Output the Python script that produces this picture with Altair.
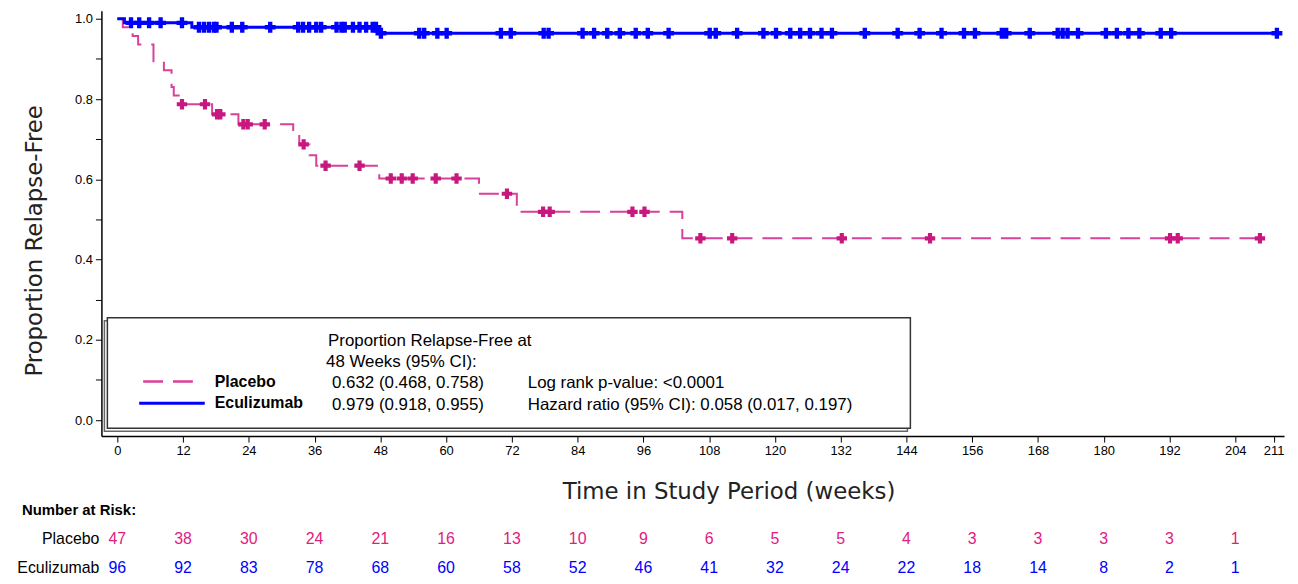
import altair as alt
import numpy as np
import pandas as pd

# ---------------- data ----------------
placebo_step_times = [0, 1.0, 2.8, 3.8, 6.6, 8.5, 9.9, 10.3, 11.2, 17.3, 22.1, 32.1, 33.2,
                      35.1, 36.3, 47.8, 66.0, 72.9, 103.1, 208.5]
placebo_step_surv = [1.0, 0.979, 0.957, 0.936, 0.894, 0.872, 0.830, 0.809, 0.787, 0.762,
                     0.737, 0.712, 0.687, 0.660, 0.634, 0.602, 0.564, 0.519, 0.453, 0.453]
placebo_censor_times = [11.8, 16.0, 18.2, 18.8, 23.0, 23.8, 26.9, 34.0, 38.0, 44.2, 49.9,
                        51.9, 53.9, 58.1, 61.9, 71.1, 77.7, 78.9, 94.0, 96.2, 106.4, 112.2,
                        132.2, 148.3, 192.1, 193.5, 208.5]

ecu_step_times = [0, 1.3, 13.6, 47.8, 211.6]
ecu_step_surv = [1.0, 0.990, 0.979, 0.964, 0.964]
ecu_censor_times = [2.5, 4.0, 5.8, 7.9, 11.8, 14.9, 15.8, 16.7, 17.6, 18.1, 20.9, 22.8, 27.9,
                    33.0, 33.9, 35.0, 36.3, 37.2, 40.0, 40.9, 41.5, 43.0, 44.2, 45.4, 46.6,
                    47.2, 48.1, 55.1, 56.0, 58.4, 60.1, 70.0, 71.8, 77.8, 78.7, 84.9, 87.0,
                    89.4, 91.7, 94.6, 96.8, 100.6, 108.1, 109.2, 113.1, 117.9, 120.2, 122.8,
                    124.6, 126.4, 128.5, 130.4, 136.4, 142.4, 146.4, 150.4, 154.5, 156.5,
                    161.4, 162.2, 166.5, 171.6, 172.5, 173.4, 175.3, 180.4, 182.4, 184.5,
                    186.5, 190.4, 192.3, 211.6]

risk_times = [0, 12, 24, 36, 48, 60, 72, 84, 96, 108, 120, 132, 144, 156, 168, 180, 192, 204]
risk_placebo = [47, 38, 30, 24, 21, 16, 13, 10, 9, 6, 5, 5, 4, 3, 3, 3, 3, 1]
risk_ecu = [96, 92, 83, 78, 68, 60, 58, 52, 46, 41, 32, 24, 22, 18, 14, 8, 2, 1]

x_ticks = [0, 12, 24, 36, 48, 60, 72, 84, 96, 108, 120, 132, 144, 156, 168, 180, 192, 204, 211]
y_ticks = [0.0, 0.1, 0.2, 0.3, 0.4, 0.5, 0.6, 0.7, 0.8, 0.9, 1.0]

# ---------------- tables ----------------
def surv_at(t, st, sv):
    idx = np.searchsorted(np.array(st), np.array(t), side="right") - 1
    return list(np.array(sv)[idx])

df_pl = pd.DataFrame({"time": placebo_step_times, "surv": placebo_step_surv})
df_ec = pd.DataFrame({"time": ecu_step_times, "surv": ecu_step_surv})
df_pl_c = pd.DataFrame({"time": placebo_censor_times,
                        "surv": surv_at(placebo_censor_times, placebo_step_times, placebo_step_surv)})
df_ec_c = pd.DataFrame({"time": ecu_censor_times,
                        "surv": surv_at(ecu_censor_times, ecu_step_times, ecu_step_surv)})
df_risk_pl = pd.DataFrame({"time": risk_times, "n": risk_placebo})
df_risk_ec = pd.DataFrame({"time": risk_times, "n": risk_ecu})

# ---------------- style / layout ----------------
PINK = "#d9409c"
PINK_DARK = "#c8187f"
BLUE = "#0000ff"
FONT = "Liberation Sans, Arial, sans-serif"
TFONT = "DejaVu Sans, sans-serif"

PLOT_LEFT, PLOT_TOP, W, H = 102, 9, 1190, 428


def px(x):
    return x - PLOT_LEFT


def py(y):
    return y - PLOT_TOP


one = alt.Data(values=[{"a": 1}])

xscale = alt.Scale(domain=[-2.9, 212.9], nice=False, zero=False)
yscale = alt.Scale(domain=[-0.04, 1.02], nice=False, zero=False)

xaxis = alt.Axis(values=x_ticks, format="d", title="Time in Study Period (weeks)",
                 titleFont=TFONT, titleFontSize=23, titleFontWeight="normal", titleColor="#222",
                 titleX=631, titleY=56, titleAlign="center", titleBaseline="middle",
                 labelFont=FONT, labelFontSize=13, labelColor="black", labelPadding=3,
                 labelOverlap=False, labelFlush=False,
                 tickSize=6, tickColor="black", domainColor="black", domainWidth=1.5, grid=False)
yaxis = alt.Axis(values=y_ticks,
                 labelExpr="round(datum.value*10) % 2 == 0 ? format(datum.value, '.1f') : ''",
                 title="Proportion Relapse-Free", titleFont=TFONT, titleFontSize=23,
                 titleFontWeight="normal", titleColor="#222", titleAngle=270,
                 titleX=-67, titleY=231, titleAlign="center", titleBaseline="middle",
                 labelFont=FONT, labelFontSize=13, labelColor="black", labelPadding=3,
                 tickSize=6, tickColor="black", domainColor="black", domainWidth=1.5, grid=False)

X = lambda: alt.X("time:Q", scale=xscale, axis=xaxis)
Y = lambda: alt.Y("surv:Q", scale=yscale, axis=yaxis)

line_pl = alt.Chart(df_pl).mark_line(interpolate="step-after", color=PINK, strokeWidth=2,
                                     strokeDash=[20, 10]).encode(x=X(), y=Y())
line_ec = alt.Chart(df_ec).mark_line(interpolate="step-after", color=BLUE,
                                     strokeWidth=3).encode(x=X(), y=Y())
pts_pl = alt.Chart(df_pl_c).mark_point(shape="cross", filled=True, color=PINK_DARK, size=110,
                                       opacity=1).encode(x=X(), y=Y())
pts_ec = alt.Chart(df_ec_c).mark_point(shape="cross", filled=True, color=BLUE, size=120,
                                       opacity=1).encode(x=X(), y=Y())

risk_pl = alt.Chart(df_risk_pl).mark_text(font=FONT, fontSize=16, color="#e0207f",
                                          baseline="middle").encode(
    x=X(), y=alt.value(py(541)), text="n:Q")
risk_ec = alt.Chart(df_risk_ec).mark_text(font=FONT, fontSize=16, color=BLUE,
                                          baseline="middle").encode(
    x=X(), y=alt.value(py(570)), text="n:Q")


def label(text, x, y, size=17, weight="normal", align="left", color="black", font=FONT):
    return alt.Chart(one).mark_text(text=text, align=align, baseline="middle", fontSize=size,
                                    fontWeight=weight, font=font, color=color).encode(
        x=alt.value(px(x)), y=alt.value(py(y)))


def rect(x1, x2, y1, y2, **kw):
    return alt.Chart(one).mark_rect(**kw).encode(
        x=alt.value(px(x1)), x2=alt.value(px(x2)), y=alt.value(py(y1)), y2=alt.value(py(y2)))


def rule(x1, x2, y, **kw):
    return alt.Chart(one).mark_rule(**kw).encode(
        x=alt.value(px(x1)), x2=alt.value(px(x2)), y=alt.value(py(y)))


box_shadow = rect(105, 913, 321, 432, fill="white", stroke="#666", strokeWidth=1.5)
box = rect(108, 916, 318, 429, fill="white", stroke="#333", strokeWidth=1.5)

legend_layers = [
    box_shadow, box,
    label("Proportion Relapse-Free at", 330, 341),
    label("48 Weeks (95% CI):", 328, 362),
    rule(144, 202, 382, color=PINK, strokeWidth=2.5, strokeDash=[20, 10]),
    rule(140, 206, 404, color=BLUE, strokeWidth=3),
    label("Placebo", 216, 383, size=16, weight="bold"),
    label("Eculizumab", 216, 404, size=16, weight="bold"),
    label("0.632 (0.468, 0.758)", 334, 384),
    label("0.979 (0.918, 0.955)", 334, 406),
    label("Log rank p-value: <0.0001", 531, 384),
    label("Hazard ratio (95% CI): 0.058 (0.017, 0.197)", 531, 406),
    label("Number at Risk:", 22, 511, size=15, weight="bold"),
    label("Placebo", 100, 541, size=16, align="right"),
    label("Eculizumab", 100, 570, size=16, align="right"),
]

chart = alt.layer(
    *legend_layers, line_pl, line_ec, pts_pl, pts_ec, risk_pl, risk_ec
).properties(
    width=W, height=H,
    autosize=alt.AutoSizeParams(type="none"),
    padding={"left": PLOT_LEFT - 8, "top": PLOT_TOP - 8, "right": 6, "bottom": 145},
    background="white",
).configure_view(stroke=None)

chart.save("out.html", embed_options={"renderer": "svg", "actions": False})
